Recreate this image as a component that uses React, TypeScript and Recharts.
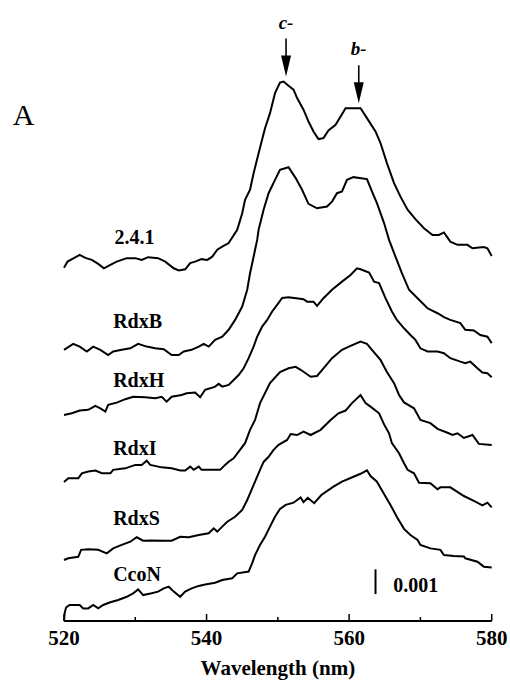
import { LineChart, Line, XAxis, YAxis, ReferenceDot, ReferenceLine } from "recharts";

// difference spectra, values in units of 0.001 A (traces stacked as printed)
const wl241 = [520.0, 520.5, 522.2, 523.0, 523.9, 524.8, 525.6, 526.5, 527.4, 528.8, 530.0, 530.9, 531.8, 533.2, 534.2, 535.4, 536.1, 537.0, 537.7, 538.4, 539.3, 540.1, 540.8, 541.5, 542.2, 543.1, 544.3, 545.0, 545.4, 546.1, 546.6, 547.3, 548.2, 548.9, 549.6, 550.3, 550.8, 551.5, 552.2, 552.7, 553.6, 554.3, 555.0, 555.7, 556.4, 557.1, 558.1, 559.5, 561.6, 562.5, 563.7, 564.4, 565.3, 566.3, 567.2, 568.2, 569.3, 570.5, 571.7, 572.6, 573.3, 574.2, 575.2, 576.6, 577.3, 578.9, 579.4, 580.0];
const v241 = [14.30, 14.55, 14.82, 14.70, 14.62, 14.46, 14.28, 14.42, 14.55, 14.69, 14.69, 14.62, 14.73, 14.69, 14.55, 14.28, 14.19, 14.24, 14.49, 14.55, 14.65, 14.62, 14.75, 15.03, 15.16, 15.30, 15.84, 16.51, 17.05, 17.46, 18.13, 18.94, 19.95, 20.56, 21.37, 21.80, 21.84, 21.67, 21.51, 21.17, 20.70, 20.22, 19.82, 19.51, 19.55, 19.86, 20.09, 20.76, 20.76, 20.36, 19.82, 19.35, 18.54, 17.73, 17.18, 16.65, 16.27, 15.90, 15.63, 15.63, 15.73, 15.36, 15.23, 15.23, 15.09, 15.14, 15.09, 14.78];

const wlB = [520.0, 521.3, 522.2, 523.2, 524.1, 525.1, 526.2, 526.9, 528.1, 529.3, 530.4, 531.6, 532.8, 534.0, 535.1, 536.1, 536.8, 537.9, 538.9, 539.6, 540.3, 541.2, 542.2, 543.1, 544.0, 545.0, 545.7, 546.1, 546.6, 547.1, 547.3, 548.0, 548.7, 549.6, 550.3, 551.5, 552.5, 553.4, 554.3, 555.5, 556.9, 557.6, 558.3, 559.0, 559.7, 560.6, 562.5, 563.2, 563.9, 564.9, 565.6, 566.5, 567.4, 568.4, 569.6, 571.0, 572.4, 573.3, 574.2, 575.6, 576.3, 577.5, 578.4, 579.4, 580.0];
const vB = [10.98, 11.22, 11.11, 10.91, 11.11, 10.98, 10.77, 10.91, 10.98, 11.04, 11.22, 11.11, 11.04, 11.00, 10.77, 10.77, 10.91, 10.98, 11.11, 11.22, 11.11, 11.38, 11.51, 11.79, 12.19, 12.73, 13.41, 14.08, 14.75, 15.43, 15.84, 16.65, 17.32, 17.86, 18.27, 18.37, 17.93, 17.46, 16.89, 16.71, 16.78, 16.98, 17.32, 17.39, 17.86, 17.97, 17.89, 17.39, 16.92, 16.11, 15.43, 14.75, 14.08, 13.41, 13.07, 12.66, 12.46, 12.30, 12.19, 12.06, 11.79, 11.76, 11.58, 11.51, 11.25];

const wlH = [520.0, 521.1, 522.2, 523.4, 524.4, 525.1, 525.8, 526.2, 527.4, 528.6, 529.7, 531.4, 532.8, 533.7, 534.4, 535.1, 536.5, 537.2, 538.4, 539.1, 539.8, 540.5, 541.2, 541.7, 542.2, 543.1, 543.8, 544.5, 545.2, 545.9, 546.6, 547.1, 547.8, 548.5, 549.2, 549.9, 550.6, 551.5, 553.6, 554.1, 555.0, 555.5, 556.4, 557.6, 559.0, 560.2, 561.1, 561.6, 562.8, 563.5, 564.2, 565.1, 566.0, 566.7, 567.7, 568.6, 569.3, 570.0, 571.0, 572.4, 573.3, 574.2, 575.6, 576.3, 577.0, 578.0, 578.7, 579.4, 580.0];
const vH = [8.34, 8.41, 8.52, 8.55, 8.71, 8.61, 8.48, 8.75, 8.84, 8.98, 9.08, 9.06, 9.02, 9.08, 8.88, 9.08, 9.15, 9.22, 9.25, 9.06, 9.36, 9.42, 9.49, 9.60, 9.49, 9.56, 9.76, 9.96, 10.23, 10.64, 11.11, 11.51, 11.92, 12.19, 12.53, 12.80, 13.08, 13.11, 13.03, 12.93, 12.93, 12.76, 13.07, 13.41, 13.74, 14.01, 14.28, 14.24, 14.11, 13.74, 13.68, 13.07, 12.53, 12.19, 11.85, 11.58, 11.38, 11.04, 10.91, 10.91, 10.84, 10.64, 10.50, 10.44, 10.50, 10.23, 10.06, 10.03, 9.87];

const wlI = [520.0, 520.6, 522.0, 522.5, 523.4, 524.4, 525.3, 526.5, 526.9, 528.6, 530.0, 530.9, 531.6, 532.1, 533.7, 535.1, 536.3, 537.0, 537.7, 538.2, 538.9, 539.3, 541.9, 542.6, 543.1, 543.8, 544.5, 545.4, 546.1, 546.8, 547.5, 548.9, 550.3, 551.5, 552.5, 553.2, 553.9, 554.6, 555.5, 556.4, 557.6, 559.0, 560.2, 561.6, 562.5, 563.2, 564.4, 565.3, 566.3, 567.0, 567.7, 569.1, 570.0, 571.4, 572.4, 573.8, 574.5, 575.2, 576.1, 577.3, 578.2, 580.0];
const vI = [5.63, 5.78, 5.78, 5.98, 6.05, 6.09, 5.98, 5.98, 6.12, 6.18, 6.32, 6.32, 6.49, 6.32, 6.22, 6.18, 6.09, 6.09, 6.25, 6.12, 6.25, 6.12, 6.12, 6.32, 6.45, 6.59, 6.86, 7.20, 7.74, 8.14, 8.82, 9.63, 10.08, 10.23, 10.29, 10.17, 10.03, 9.89, 9.92, 10.23, 10.64, 10.98, 11.14, 11.31, 11.22, 10.98, 10.57, 10.08, 9.63, 9.15, 8.85, 8.61, 8.14, 8.01, 7.78, 7.62, 7.53, 7.60, 7.41, 7.53, 7.17, 7.13];

const wlS = [520.0, 520.6, 522.0, 522.4, 523.4, 524.8, 526.0, 526.9, 528.1, 529.3, 530.2, 531.1, 532.3, 534.0, 535.1, 536.3, 537.5, 538.9, 540.3, 541.0, 541.5, 542.2, 542.9, 544.0, 545.0, 545.7, 546.1, 546.8, 547.5, 548.0, 548.7, 549.4, 550.1, 551.3, 551.8, 552.7, 553.6, 554.6, 556.0, 557.4, 558.5, 559.5, 560.4, 561.6, 562.3, 563.0, 564.2, 564.9, 565.6, 566.0, 567.0, 567.7, 568.2, 569.1, 569.8, 571.4, 572.4, 572.8, 574.2, 576.1, 577.5, 578.7, 579.4, 580.0];
const vS = [2.47, 2.54, 2.60, 2.88, 2.90, 2.88, 2.74, 2.94, 3.08, 3.21, 3.39, 3.25, 3.26, 3.25, 3.25, 3.41, 3.39, 3.48, 3.55, 3.75, 3.62, 3.82, 4.02, 4.22, 4.50, 4.90, 5.17, 5.64, 6.12, 6.44, 6.65, 6.93, 7.13, 7.33, 7.57, 7.53, 7.67, 7.53, 7.74, 8.14, 8.41, 8.52, 8.82, 9.15, 8.82, 8.68, 8.41, 7.96, 7.60, 7.20, 6.79, 6.39, 6.12, 5.98, 5.60, 5.58, 5.33, 5.41, 5.41, 5.06, 4.86, 4.68, 4.79, 4.60];

const wlN = [520.0, 520.1, 520.3, 520.8, 522.2, 522.7, 523.4, 524.1, 524.8, 525.5, 526.5, 527.6, 528.8, 529.7, 530.4, 531.1, 532.3, 533.2, 534.0, 534.7, 535.4, 536.3, 537.0, 537.9, 538.9, 539.8, 541.2, 542.2, 543.6, 544.3, 545.9, 546.4, 546.8, 547.5, 548.2, 548.9, 549.6, 550.3, 551.1, 552.2, 553.2, 553.6, 554.2, 555.1, 556.1, 557.8, 559.0, 560.2, 561.6, 562.5, 563.0, 563.9, 564.9, 565.8, 566.7, 567.7, 568.6, 569.6, 570.0, 571.4, 572.8, 573.3, 574.7, 576.1, 576.3, 578.0, 578.9, 580.0];
const vN = [0.0, 0.34, 0.55, 0.65, 0.65, 0.51, 0.51, 0.65, 0.51, 0.65, 0.76, 0.85, 0.98, 1.12, 1.28, 1.05, 1.12, 1.19, 1.32, 1.39, 1.19, 0.98, 1.19, 1.32, 1.42, 1.48, 1.55, 1.66, 1.73, 1.93, 2.00, 2.34, 2.67, 3.08, 3.41, 3.82, 4.22, 4.54, 4.70, 4.79, 5.00, 4.81, 4.99, 4.77, 5.10, 5.44, 5.64, 5.79, 5.96, 6.10, 5.87, 5.64, 5.14, 4.70, 4.21, 3.73, 3.48, 3.28, 3.08, 2.94, 2.88, 2.67, 2.63, 2.61, 2.54, 2.40, 2.20, 2.17];

const traceNames = ["2.4.1", "RdxB", "RdxH", "RdxI", "RdxS", "CcoN"];
const traceWl = [wl241, wlB, wlH, wlI, wlS, wlN];
const traceVals = [v241, vB, vH, vI, vS, vN];
const labelWl = [527.1, 526.9, 526.9, 526.9, 526.9, 526.9];
const labelVal = [15.25, 11.85, 9.49, 6.72, 3.89, 1.63];

const arrowWl = [551.15, 561.35];
const arrowTip = [22.04, 20.96];
const arrowText = ["c-", "b-"];

const xTicks = [520, 530, 540, 550, 560, 570, 580];
const scaleBarWl = 563.7;
const scaleBar = [1.09, 2.09];
const scaleText = "0.001";

const FONT = '"Liberation Serif", "Times New Roman", serif';

const series = traceNames.map((name, i) => ({
  name,
  data: traceWl[i].map((w, j) => ({ w, v: traceVals[i][j] })),
}));

// eslint-disable-next-line @typescript-eslint/no-explicit-any
function WlTick({ x, y, payload }: any) {
  const major = payload.value % 20 === 0;
  return (
    <g>
      <line x1={x} x2={x} y1={y} y2={y - (major ? 7 : 4)} stroke="#000" strokeWidth={1.5} />
      {major && (
        <text x={x} y={y + 24} textAnchor="middle" fontSize={21} fontWeight="bold" fontFamily={FONT} fill="#000">
          {payload.value}
        </text>
      )}
    </g>
  );
}

function textShape(text: string, size: number, anchor: string, extra: object = {}) {
  // eslint-disable-next-line @typescript-eslint/no-explicit-any
  return (p: any) => (
    <text x={p.cx} y={p.cy} textAnchor={anchor} fontSize={size} fontWeight="bold" fontFamily={FONT} fill="#000" {...extra}>
      {text}
    </text>
  );
}

function arrowShape(text: string) {
  // eslint-disable-next-line @typescript-eslint/no-explicit-any
  return (p: any) => (
    <g>
      <line x1={p.cx} x2={p.cx} y1={p.cy - 38} y2={p.cy - 18} stroke="#000" strokeWidth={1.6} />
      <polygon points={`${p.cx - 5},${p.cy - 21} ${p.cx + 5},${p.cy - 21} ${p.cx},${p.cy}`} fill="#000" />
      <text x={p.cx} y={p.cy - 48} textAnchor="middle" fontSize={19} fontWeight="bold" fontStyle="italic" fontFamily={FONT} fill="#000">
        {text}
      </text>
    </g>
  );
}

export default function App() {
  return (
    <div style={{ position: "absolute", left: 0, top: 0, background: "#fff" }}>
      <LineChart width={510} height={683} margin={{ top: 28.2, right: 18.3, left: 64, bottom: 0 }}>
        <XAxis
          dataKey="w"
          type="number"
          domain={[520, 580]}
          ticks={xTicks}
          height={62}
          tickLine={false}
          tickSize={0}
          tickMargin={0}
          tick={<WlTick />}
          axisLine={{ stroke: "#000", strokeWidth: 1.8 }}
          label={{
            value: "Wavelength (nm)",
            position: "insideBottom",
            offset: 8,
            fill: "#000",
            fontSize: 21,
            fontWeight: "bold",
            fontFamily: FONT,
          }}
        />
        <YAxis hide type="number" domain={[0, 24]} width={0} />
        {series.map((s) => (
          <Line
            key={s.name}
            data={s.data}
            dataKey="v"
            name={s.name}
            type="linear"
            stroke="#000"
            strokeWidth={2}
            dot={false}
            activeDot={false}
            isAnimationActive={false}
          />
        ))}
        {traceNames.map((n, i) => (
          <ReferenceDot key={n} x={labelWl[i]} y={labelVal[i]} r={0} ifOverflow="visible" shape={textShape(n, 20, "start")} />
        ))}
        {arrowText.map((t, i) => (
          <ReferenceDot key={t} x={arrowWl[i]} y={arrowTip[i]} r={0} ifOverflow="visible" shape={arrowShape(t)} />
        ))}
        <ReferenceLine
          segment={[{ x: scaleBarWl, y: scaleBar[0] }, { x: scaleBarWl, y: scaleBar[1] }]}
          stroke="#000"
          strokeWidth={2}
        />
        <ReferenceDot x={566.2} y={1.19} r={0} ifOverflow="visible" shape={textShape(scaleText, 20, "start")} />
        <ReferenceDot x={512.8} y={20.08} r={0} ifOverflow="visible" shape={textShape("A", 30, "start", { fontWeight: "normal" })} />
      </LineChart>
    </div>
  );
}
